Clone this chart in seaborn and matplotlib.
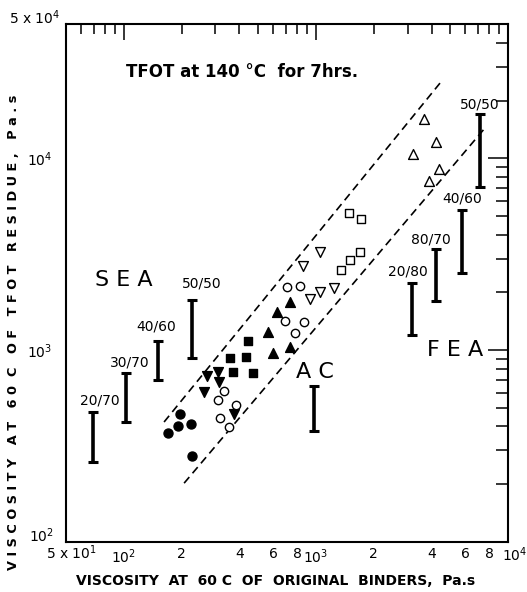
import matplotlib
matplotlib.use("Agg")
import matplotlib.pyplot as plt
import seaborn as sns

# ---- range bars (min / max viscosity of TFOT residue) ----
sea_x = [69.4, 102.3, 151, 227]
sea_lo = [261, 422, 697, 912]
sea_hi = [473, 756, 1118, 1824]
sea_labels = ["20/70", "30/70", "40/60", "50/50"]

ac_x = [981]
ac_lo = [380]
ac_hi = [651]

fea_x = [3175, 4217, 5781, 7145]
fea_lo = [1197, 1801, 2530, 7113]
fea_hi = [2228, 3352, 5370, 17020]
fea_labels = ["20/80", "80/70", "40/60", "50/50"]

# ---- measured binders: original vs. TFOT residue viscosity ----
filled_circle_x = [170, 191, 196, 225, 227]
filled_circle_y = [371, 402, 461, 411, 279]
filled_vtri_x = [270, 310, 314, 261, 376]
filled_vtri_y = [732, 765, 684, 606, 464]
open_circle_a_x = [332, 310, 382, 317, 354]
open_circle_a_y = [609, 548, 517, 444, 395]
filled_square_x = [445, 356, 432, 372, 468]
filled_square_y = [1110, 905, 923, 771, 756]
filled_tri_x = [729, 625, 565, 733, 596]
filled_tri_y = [1780, 1585, 1246, 1040, 961]
open_circle_b_x = [704, 826, 690, 867, 778]
open_circle_b_y = [2124, 2158, 1422, 1405, 1222]
open_vtri_x = [1050, 859, 931, 1054, 1242]
open_vtri_y = [3258, 2733, 1839, 2015, 2099]
open_square_x = [1483, 1722, 1346, 1504, 1695]
open_square_y = [5166, 4805, 2623, 2948, 3238]
open_tri_x = [3640, 4227, 3190, 4383, 3878]
open_tri_y = [16060, 12210, 10530, 8764, 7586]

# ---- envelope lines ----
upper_x = [162, 4430]
upper_y = [421, 24700]
lower_x = [206, 7590]
lower_y = [202, 14390]

sns.set_theme(style="white")
plt.rcParams["font.family"] = ["DejaVu Sans"]
plt.rcParams["mathtext.fontset"] = "dejavusans"
plt.rcParams["text.color"] = "black"
plt.rcParams["axes.labelcolor"] = "black"
plt.rcParams["xtick.color"] = "black"
plt.rcParams["ytick.color"] = "black"

W, H = 527, 592
fig = plt.figure(figsize=(W / 100, H / 100), dpi=100)
fig.patch.set_facecolor("white")
ax = fig.add_axes([66 / W, 1 - 541.7 / H, (508 - 66) / W, (541.7 - 24.3) / H])
ax.set_facecolor("white")

series = [
    (filled_circle_x, filled_circle_y, "o", True, 42),
    (filled_vtri_x, filled_vtri_y, "v", True, 50),
    (open_circle_a_x, open_circle_a_y, "o", False, 36),
    (filled_square_x, filled_square_y, "s", True, 30),
    (filled_tri_x, filled_tri_y, "^", True, 50),
    (open_circle_b_x, open_circle_b_y, "o", False, 36),
    (open_vtri_x, open_vtri_y, "v", False, 50),
    (open_square_x, open_square_y, "s", False, 30),
    (open_tri_x, open_tri_y, "^", False, 50),
]
for xs, ys, m, filled, s in series:
    sns.scatterplot(x=xs, y=ys, marker=m, s=s,
                    color="black" if filled else "white",
                    edgecolor="black", linewidth=1.0, ax=ax, zorder=3)

for xs, ys in [(upper_x, upper_y), (lower_x, lower_y)]:
    sns.lineplot(x=xs, y=ys, color="black", linewidth=1.2,
                 linestyle=(0, (4.8, 3.0)), ax=ax, zorder=2)

ax.set_xscale("log")
ax.set_yscale("log")
ax.set_xlim(50, 1e4)
ax.set_ylim(100, 5e4)


def range_bars(xs, lo, hi):
    mid = [(a + b) / 2 for a, b in zip(lo, hi)]
    ax.errorbar(xs, mid, yerr=[[m - a for m, a in zip(mid, lo)],
                               [b - m for m, b in zip(mid, hi)]],
                fmt="none", ecolor="black", elinewidth=2.6,
                capsize=3.4, capthick=2.2, zorder=3)


range_bars(sea_x, sea_lo, sea_hi)
range_bars(ac_x, ac_lo, ac_hi)
range_bars(fea_x, fea_lo, fea_hi)

# blend labels above each bar (offsets in pixels)
sea_off = [(6, 12), (4, 11), (-2, 14), (10, 16)]
fea_off = [(-4, 12), (-5, 10), (0, 12), (0, 10)]
for xs, hi, labs, offs in [(sea_x, sea_hi, sea_labels, sea_off),
                           (fea_x, fea_hi, fea_labels, fea_off)]:
    for x, h, lab, (dx, dy) in zip(xs, hi, labs, offs):
        ax.annotate(lab, (x, h), xytext=(dx, dy), textcoords="offset pixels",
                    ha="center", va="center", fontsize=10, color="black")

# axis ticks
ax.set_xticks([100, 1000], ["$10^2$", "$10^3$"])
x_minor = [60, 70, 80, 90] + [k * 100 for k in range(2, 10)] + \
          [k * 1000 for k in range(2, 10)]
x_minor_lab = [str(v)[0] if (v >= 200 and str(v)[0] in "2468") else ""
               for v in x_minor]
ax.set_xticks(x_minor, x_minor_lab, minor=True)

ax.set_yticks([1000, 10000], ["$10^3$", "$10^4$"])
y_minor = [k * 100 for k in range(2, 10)] + \
          [k * 1000 for k in range(2, 10)] + [20000, 30000, 40000]
ax.set_yticks(y_minor, [""] * len(y_minor), minor=True)

ax.tick_params(which="both", direction="in", top=True, right=True,
               width=1.1, color="black", labelsize=10, labelcolor="black")
ax.xaxis.set_tick_params(which="major", length=11.5, pad=4)
ax.xaxis.set_tick_params(which="minor", length=7, pad=4)
ax.yaxis.set_tick_params(which="major", length=14.5, pad=10)
ax.yaxis.set_tick_params(which="minor", length=8.5, pad=10)

for sp in ax.spines.values():
    sp.set_visible(True)
    sp.set_color("black")
    sp.set_linewidth(1.5)


def fig_text(px, py, s, **kw):
    fig.text(px / W, 1 - py / H, s, color="black", **kw)


# labels at the axis ends
fig_text(71, 553, "5 x 10$^1$", ha="center", va="center", fontsize=10)
fig_text(515, 555, "$10^4$", ha="center", va="center", fontsize=10)
fig_text(35, 18, "5 x 10$^4$", ha="center", va="center", fontsize=10)
fig_text(42, 536, "$10^2$", ha="center", va="center", fontsize=10)

fig_text(124, 280, "S E A", ha="center", va="center", fontsize=16)
fig_text(315, 372, "A C", ha="center", va="center", fontsize=16)
fig_text(455, 350, "F E A", ha="center", va="center", fontsize=16)
fig_text(126, 72, "TFOT at 140 °C  for 7hrs.", ha="left", va="center",
         fontsize=12, fontweight="bold")
fig_text(276, 581, "VISCOSITY  AT  60 C  OF  ORIGINAL  BINDERS,  Pa.s",
         ha="center", va="center", fontsize=10, fontweight="bold")
fig_text(14, 332, "V I S C O S I T Y   A T   6 0  C   O F   T F O T   R E S I D U E ,   P a . s",
         ha="center", va="center", rotation=90, fontsize=9.3, fontweight="bold")

fig.savefig("out.png", dpi=100, facecolor="white")
